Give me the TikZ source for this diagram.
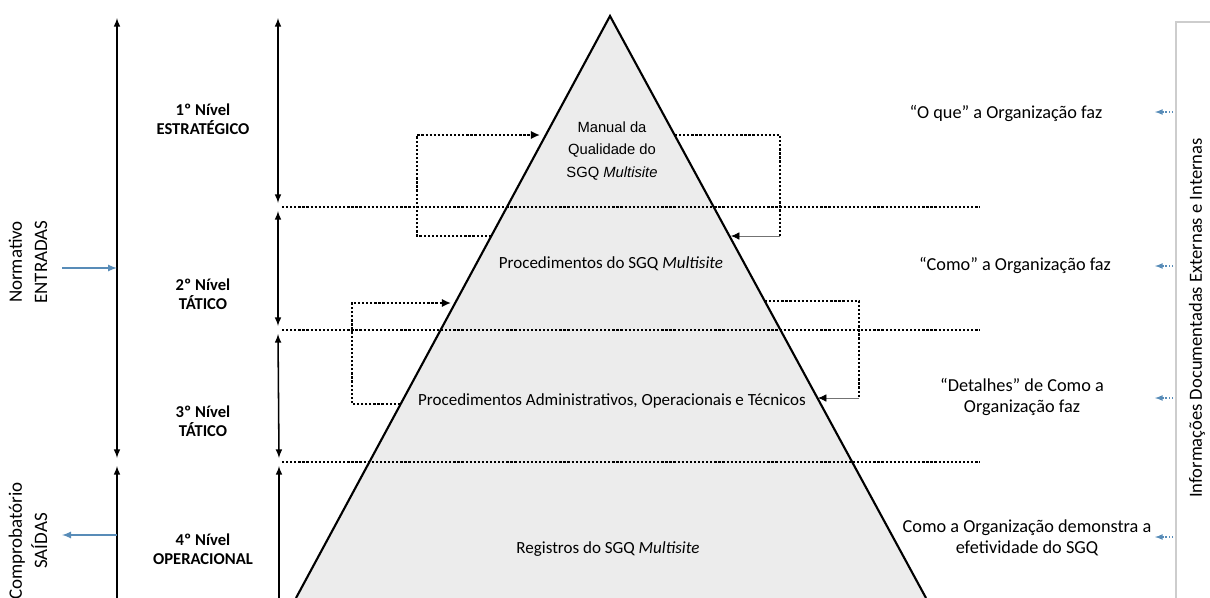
\documentclass[tikz,border=0pt]{standalone}
\usepackage{fontspec}
\setmainfont{Carlito}
\newfontfamily\arialfont{Liberation Sans}
\usepackage{tikz}
\usetikzlibrary{arrows, arrows.meta}
\definecolor{pyrgray}{RGB}{236,236,236}
\definecolor{infoblue}{RGB}{88,140,184}
\definecolor{boxgray}{RGB}{205,205,205}
\tikzstyle{levelname} = [font=\bfseries\fontsize{11.8}{13.5}\selectfont, align=center]
\tikzstyle{tier} = [font=\fontsize{12.1}{14}\selectfont, align=center]
\tikzstyle{manualtext} = [font=\arialfont\fontsize{10.5}{16}\selectfont, align=center]
\tikzstyle{note} = [font=\fontsize{13}{14.5}\selectfont, align=center]
\tikzstyle{sidelabel} = [font=\fontsize{13.5}{18}\selectfont, align=center, rotate=90]
\tikzstyle{infolabel} = [font=\fontsize{13.2}{15}\selectfont, rotate=90]
\tikzstyle{edge} = [line width=1.5pt]
\tikzstyle{span} = [line width=1.1pt, >=latex]
\tikzstyle{divider} = [line width=1.8pt, dash pattern=on 1.6pt off 1.3pt]
\tikzstyle{feedback} = [line width=1.8pt, dash pattern=on 1.6pt off 1.3pt, >={Latex[length=6.5pt,width=6pt]}]
\tikzstyle{thinback} = [line width=0.6pt, black!55, -{Latex[length=6pt,width=5.5pt,color=black]}]
\tikzstyle{inflow} = [line width=1.2pt, infoblue, ->, >=latex]
\tikzstyle{feed} = [line width=0.9pt, infoblue, dash pattern=on 1pt off 1.2pt, ->, >=latex]

\begin{document}
\begin{tikzpicture}[x=0.025cm, y=-0.025cm]
  \useasboundingbox (0,0) rectangle (1210,598);
  % pyramid
  \coordinate (apex) at (610,16);
  \coordinate (base l) at (296,598);
  \coordinate (base r) at (926,598);
  \fill[pyrgray] (apex) -- (base r) -- (base l) -- cycle;
  % level dividers
  \coordinate (d1 l) at (282,207);
  \coordinate (d1 r) at (980,207);
  \coordinate (d2 l) at (282,330);
  \coordinate (d2 r) at (980,330);
  \coordinate (d3 l) at (282,462);
  \coordinate (d3 r) at (980,462);
  \draw[divider] (d1 l) -- (d1 r);
  \draw[divider] (d2 l) -- (d2 r);
  \draw[divider] (d3 l) -- (d3 r);
  \draw[edge] (base l) -- (apex) -- (base r);
  % feedback loops
  \coordinate (la1) at (491,236);
  \coordinate (la2) at (417,236);
  \coordinate (la3) at (417,135);
  \coordinate (la4) at (540,135);
  \coordinate (ra1) at (675,135);
  \coordinate (ra2) at (780,135);
  \coordinate (ra3) at (780,236);
  \coordinate (ra4) at (731,236);
  \coordinate (lb1) at (400,404);
  \coordinate (lb2) at (352,404);
  \coordinate (lb3) at (352,303);
  \coordinate (lb4) at (451,303);
  \coordinate (rb1) at (765,301);
  \coordinate (rb2) at (859,301);
  \coordinate (rb3) at (859,398);
  \coordinate (rb4) at (818,398);
  \draw[feedback, ->] (la1) -- (la2) -- (la3) -- (la4);
  \draw[feedback] (ra1) -- (ra2) -- (ra3);
  \draw[thinback] (ra3) -- (ra4);
  \draw[feedback, ->] (lb1) -- (lb2) -- (lb3) -- (lb4);
  \draw[feedback] (rb1) -- (rb2) -- (rb3);
  \draw[thinback] (rb3) -- (rb4);
  % vertical spans
  \coordinate (in top) at (117,18);
  \coordinate (in bot) at (117,458);
  \coordinate (out top) at (117,466);
  \coordinate (out bot) at (117,598);
  \coordinate (n1 top) at (278,18);
  \coordinate (n1 bot) at (278,203);
  \coordinate (n2 top) at (278,211);
  \coordinate (n2 bot) at (278,326);
  \coordinate (n3 top) at (278,334);
  \coordinate (n3 bot) at (279,458);
  \coordinate (n4 top) at (279,466);
  \coordinate (n4 bot) at (279,598);
  \draw[span, <->] (in top) -- (in bot);
  \draw[span, ->] (out bot) -- (out top);
  \draw[span, <->] (n1 top) -- (n1 bot);
  \draw[span, <->] (n2 top) -- (n2 bot);
  \draw[span, <->] (n3 top) -- (n3 bot);
  \draw[span, ->] (n4 bot) -- (n4 top);
  % inputs and outputs
  \node (normativo) [sidelabel] at (28,262) {Normativo\\ENTRADAS};
  \node (comprob) [sidelabel] at (28,541) {Comprobatório\\SAÍDAS};
  \coordinate (in start) at (62,268);
  \coordinate (in end) at (117,268);
  \coordinate (out start) at (117,535);
  \coordinate (out end) at (62,535);
  \draw[inflow] (in start) -- (in end);
  \draw[inflow] (out start) -- (out end);
  % levels
  \node (nivel1) [levelname] at (203,119) {1º Nível\\ESTRATÉGICO};
  \node (nivel2) [levelname] at (203,294) {2º Nível\\TÁTICO};
  \node (nivel3) [levelname] at (203,421) {3º Nível\\TÁTICO};
  \node (nivel4) [levelname] at (203,549) {4º Nível\\OPERACIONAL};
  % pyramid contents
  \node (manual) [manualtext] at (612,151) {Manual da\\Qualidade do\\SGQ \textit{Multisite}};
  \node (proc) [tier] at (611,264) {Procedimentos do SGQ \textit{Multisite}};
  \node (admin) [tier] at (612,401) {Procedimentos Administrativos, Operacionais e Técnicos};
  \node (records) [tier] at (608,549) {Registros do SGQ \textit{Multisite}};
  % descriptions
  \node (oque) [note] at (1006,113) {“O que” a Organização faz};
  \node (como) [note] at (1015,265) {“Como” a Organização faz};
  \node (detalhes) [note] at (1022,397) {“Detalhes” de Como a\\Organização faz};
  \node (demonstra) [note] at (1027,538) {Como a Organização demonstra a\\efetividade do SGQ};
  % documented information
  \coordinate (box tr) at (1210,22);
  \coordinate (box tl) at (1176,22);
  \coordinate (box bl) at (1176,598);
  \draw[boxgray, line width=2pt] (box tr) -- (box tl) -- (box bl);
  \node (info) [infolabel] at (1197,318) {Informações Documentadas Externas e Internas};
  \coordinate (f1 a) at (1173,112);
  \coordinate (f1 b) at (1155,112);
  \coordinate (f2 a) at (1173,266);
  \coordinate (f2 b) at (1155,266);
  \coordinate (f3 a) at (1173,398);
  \coordinate (f3 b) at (1155,398);
  \coordinate (f4 a) at (1173,537);
  \coordinate (f4 b) at (1155,537);
  \draw[feed] (f1 a) -- (f1 b);
  \draw[feed] (f2 a) -- (f2 b);
  \draw[feed] (f3 a) -- (f3 b);
  \draw[feed] (f4 a) -- (f4 b);
\end{tikzpicture}
\end{document}
